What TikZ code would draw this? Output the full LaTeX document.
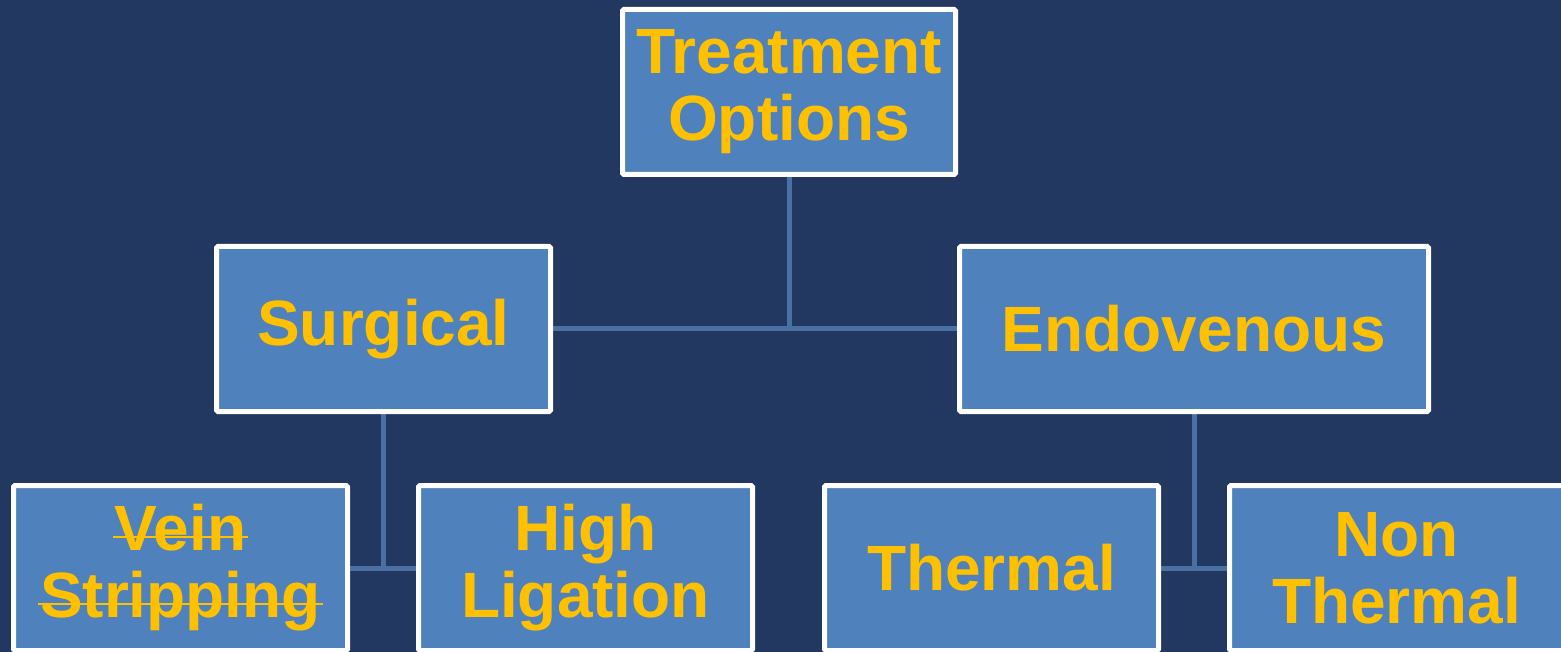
\documentclass[tikz,border=0pt]{standalone}
\usepackage{fontspec}
\setmainfont{Liberation Sans}
\usetikzlibrary{backgrounds}
\definecolor{bgblue}{RGB}{34,56,96}
\definecolor{boxblue}{RGB}{79,129,189}
\definecolor{linkblue}{RGB}{74,111,163}
\definecolor{txtgold}{RGB}{255,192,0}
\newsavebox{\mystrikebox}
\newcommand{\mystrike}[1]{\sbox{\mystrikebox}{#1}\rlap{\kern-2pt\raisebox{13pt}{\rule{\dimexpr\wd\mystrikebox+4pt\relax}{1.5pt}}}\usebox{\mystrikebox}}
\tikzset{
  box/.style={draw=white, line width=5pt, fill=boxblue, rounded corners=1.5pt,
    minimum width=334pt, minimum height=165pt, inner sep=0pt, align=center,
    text=txtgold, font=\bfseries\fontsize{64}{67}\selectfont},
  link/.style={draw=linkblue, line width=5pt}
}
\begin{document}
\begin{tikzpicture}[x=1pt,y=-1pt]
\useasboundingbox (0,0) rectangle (1561,652);
\clip (0,0) rectangle (1561,652);
\node[box, minimum width=333pt] (root) at (789,92) {\raisebox{-2pt}{Treatment}\\\raisebox{-2pt}{Options}};
\node[box] (surg) at (383.5,329) {\raisebox{-2pt}{Surgical}};
\node[box, minimum width=469pt] (endo) at (1194,329) {\raisebox{-2pt}{Endovenous}};
\node[box] (vein) at (180.5,568) {\mystrike{Vein}\\\mystrike{Stripping}};
\node[box] (high) at (585.5,568) {High\\Ligation};
\node[box] (therm) at (991.5,568) {Thermal};
\node[box] (nonth) at (1396.5,568) {Non\\Thermal};
\begin{scope}[on background layer]
\fill[bgblue] (0,0) rectangle (1561,652);
\draw[link] (root.south) -- (root.south |- surg.east);
\draw[link] (surg.east) -- (endo.west);
\draw[link] (surg.south) -- (surg.south |- vein.east);
\draw[link] (vein.east) -- (high.west);
\draw[link] (endo.south) -- (endo.south |- therm.east);
\draw[link] (therm.east) -- (nonth.west);
\end{scope}
\end{tikzpicture}
\end{document}
